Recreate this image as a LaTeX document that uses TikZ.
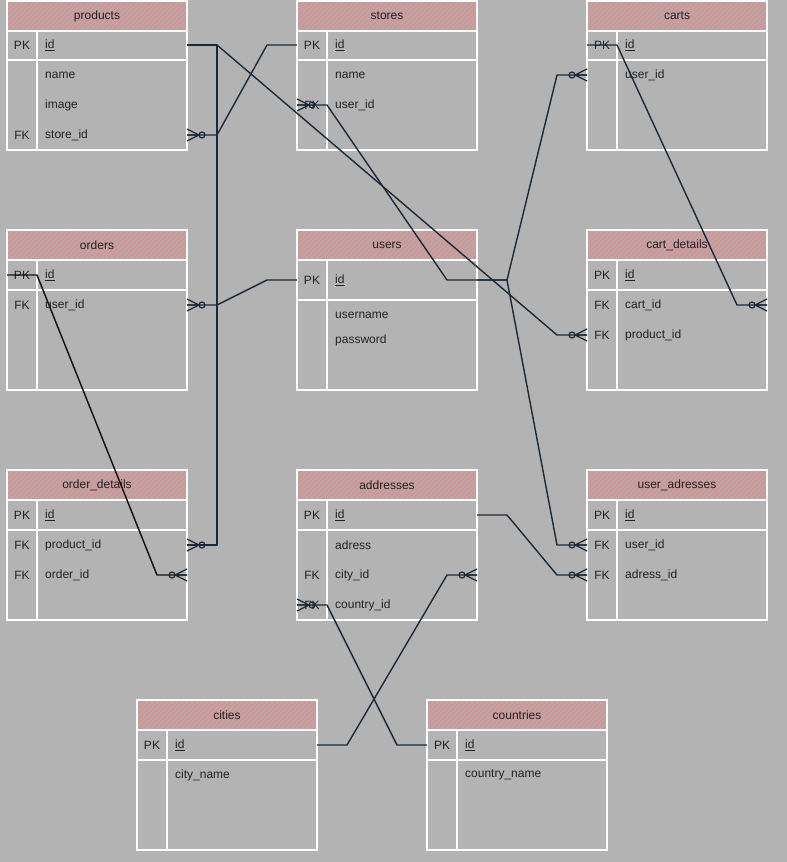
\documentclass[tikz,border=0pt]{standalone}
\usepackage{fontspec}
\setmainfont{Liberation Sans}
\definecolor{bg}{RGB}{179,179,179}
\definecolor{conn}{RGB}{26,42,58}
\definecolor{connblack}{RGB}{18,18,22}
\definecolor{txt}{RGB}{34,34,34}
\definecolor{hdrbase}{RGB}{182,170,170}
\definecolor{hatch}{RGB}{216,146,146}

% table frame: header band with hatching, outline, key column divider, title
\newcommand\ertable[5]{% #1 name, #2 x, #3 y, #4 height, #5 title
  \begin{scope}
    \clip (#2,#3) rectangle ++(180,30);
    \fill[hdrbase] (#2,#3) rectangle ++(180,30);
    \foreach \k in {-30,-25,...,186}
      \draw[hatchline] ({#2+\k},{#3+30}) -- ++(30,-30);
  \end{scope}
  \node[tbl, minimum height=#4pt] (#1) at (#2,#3) {};
  \draw[rule] (#2,{#3+30}) -- ++(180,0);
  \draw[rule] ({#2+30},{#3+30}) -- ({#2+30},{#3+#4});
  \node[title] (#1-title) at ({#2+90},{#3+15}) {#5};
}
% horizontal rule below the primary key row
\newcommand\errule[2]{\draw[rule] (#1,#2) -- ++(180,0);}
% one field row: #1 node name, #2 table x, #3 row y, #4 key, #5 field name
\newcommand\erfield[5]{%
  \node[keytxt] (#1-k) at ({#2+15},#3) {#4};
  \node[fld] (#1) at ({#2+38},#3) {#5};
}

\begin{document}
\begin{tikzpicture}[x=1pt,y=-1pt,
  tbl/.style={draw=white, line width=1.3pt, minimum width=180pt, anchor=north west,
    inner sep=0pt, outer sep=0pt},
  rule/.style={draw=white, line width=1.1pt},
  hatchline/.style={draw=hatch, line width=1.6pt},
  title/.style={font=\fontsize{12}{14}\selectfont, text=txt, inner sep=0pt},
  fld/.style={font=\fontsize{12}{14}\selectfont, text=txt, anchor=west, inner sep=0pt},
  keytxt/.style={font=\fontsize{12}{14}\selectfont, text=txt, inner sep=0pt},
  rel/.style={draw=conn, line width=1.4pt, line join=round},
  relblack/.style={rel, draw=connblack},
  crow/.pic={
    \draw[conn, line width=1.2pt, line join=round] (0,-6) -- (12,0) -- (0,6) (0,0) -- (12,0);
    \draw[conn, line width=1.2pt] (15,0) circle (3);
  }
]
\fill[bg] (0,0) rectangle (787,862);
\useasboundingbox (0,0) rectangle (787,862);

% ---------- tables ----------
\ertable{products}{7}{1}{149}{products}
\errule{7}{60}
\erfield{p-id}{7}{45}{PK}{\underline{id}}
\erfield{p-name}{7}{75}{}{name}
\erfield{p-image}{7}{105}{}{image}
\erfield{p-store}{7}{135}{FK}{store\_id}

\ertable{stores}{297}{1}{149}{stores}
\errule{297}{60}
\erfield{s-id}{297}{45}{PK}{\underline{id}}
\erfield{s-name}{297}{75}{}{name}
\erfield{s-user}{297}{105}{FK}{user\_id}

\ertable{carts}{587}{1}{149}{carts}
\errule{587}{60}
\erfield{c-id}{587}{45}{PK}{\underline{id}}
\erfield{c-user}{587}{75}{}{user\_id}

\ertable{orders}{7}{230}{160}{orders}
\errule{7}{290}
\erfield{o-id}{7}{275}{PK}{\underline{id}}
\erfield{o-user}{7}{305}{FK}{user\_id}

\ertable{users}{297}{230}{160}{users}
\errule{297}{300}
\erfield{u-id}{297}{280}{PK}{\underline{id}}
\erfield{u-name}{297}{315}{}{username}
\erfield{u-pass}{297}{340}{}{password}

\ertable{cart_details}{587}{230}{160}{cart\_details}
\errule{587}{290}
\erfield{cd-id}{587}{275}{PK}{\underline{id}}
\erfield{cd-cart}{587}{305}{FK}{cart\_id}
\erfield{cd-prod}{587}{335}{FK}{product\_id}

\ertable{order_details}{7}{470}{150}{order\_details}
\errule{7}{530}
\erfield{od-id}{7}{515}{PK}{\underline{id}}
\erfield{od-prod}{7}{545}{FK}{product\_id}
\erfield{od-order}{7}{575}{FK}{order\_id}

\ertable{addresses}{297}{470}{150}{addresses}
\errule{297}{530}
\erfield{a-id}{297}{515}{PK}{\underline{id}}
\erfield{a-adr}{297}{545}{}{adress}
\erfield{a-city}{297}{575}{FK}{city\_id}
\erfield{a-country}{297}{605}{FK}{country\_id}

\ertable{user_adresses}{587}{470}{150}{user\_adresses}
\errule{587}{530}
\erfield{ua-id}{587}{515}{PK}{\underline{id}}
\erfield{ua-user}{587}{545}{FK}{user\_id}
\erfield{ua-adr}{587}{575}{FK}{adress\_id}

\ertable{cities}{137}{700}{150}{cities}
\errule{137}{760}
\erfield{ci-id}{137}{745}{PK}{\underline{id}}
\erfield{ci-name}{137}{775}{}{city\_name}

\ertable{countries}{427}{700}{150}{countries}
\errule{427}{760}
\erfield{co-id}{427}{745}{PK}{\underline{id}}
\erfield{co-name}{427}{775}{}{country\_name}

% ---------- attachment points on the table edges ----------
\coordinate (p-id-R)     at (products.east |- p-id);
\coordinate (p-store-R)  at (products.east |- p-store);
\coordinate (s-id-L)     at (stores.west |- s-id);
\coordinate (s-user-L)   at (stores.west |- s-user);
\coordinate (c-id-L)     at (carts.west |- c-id);
\coordinate (c-user-L)   at (carts.west |- c-user);
\coordinate (o-id-L)     at (orders.west |- o-id);
\coordinate (o-user-R)   at (orders.east |- o-user);
\coordinate (u-id-L)     at (users.west |- u-id);
\coordinate (u-id-R)     at (users.east |- u-id);
\coordinate (cd-cart-R)  at (cart_details.east |- cd-cart);
\coordinate (cd-prod-L)  at (cart_details.west |- cd-prod);
\coordinate (od-prod-R)  at (order_details.east |- od-prod);
\coordinate (od-order-R) at (order_details.east |- od-order);
\coordinate (a-id-R)     at (addresses.east |- a-id);
\coordinate (a-city-R)   at (addresses.east |- a-city);
\coordinate (a-country-L) at (addresses.west |- a-country);
\coordinate (ua-user-L)  at (user_adresses.west |- ua-user);
\coordinate (ua-adr-L)   at (user_adresses.west |- ua-adr);
\coordinate (ci-id-R)    at (cities.east |- ci-id);
\coordinate (co-id-L)    at (countries.west |- co-id);

% ---------- relations ----------
% products.id -> order_details.product_id
\draw[rel] (p-id-R) -- ++(30,0) |- (od-prod-R);
% products.id -> cart_details.product_id
\draw[rel] (p-id-R) -- ++(30,0) -- ([xshift=-30pt]cd-prod-L) -- (cd-prod-L);
% stores.id -> products.store_id
\draw[rel] (s-id-L) -- ++(-30,0) -- ([xshift=30pt]p-store-R) -- (p-store-R);
% users.id -> orders.user_id
\draw[rel] (u-id-L) -- ++(-30,0) -- ([xshift=30pt]o-user-R) -- (o-user-R);
% users.id -> stores.user_id
\draw[rel] (u-id-R) -- ++(-30,0) -- ([xshift=30pt]s-user-L) -- (s-user-L);
% users.id -> carts.user_id
\draw[rel] (u-id-R) -- ++(30,0) -- ([xshift=-30pt]c-user-L) -- (c-user-L);
% users.id -> user_adresses.user_id
\draw[rel] (u-id-R) -- ++(30,0) -- ([xshift=-30pt]ua-user-L) -- (ua-user-L);
% carts.id -> cart_details.cart_id
\draw[rel] (c-id-L) -- ++(30,0) -- ([xshift=-30pt]cd-cart-R) -- (cd-cart-R);
% orders.id -> order_details.order_id
\draw[relblack] (o-id-L) -- ++(30,0) -- ([xshift=-30pt]od-order-R) -- (od-order-R);
% addresses.id -> user_adresses.adress_id
\draw[rel] (a-id-R) -- ++(30,0) -- ([xshift=-30pt]ua-adr-L) -- (ua-adr-L);
% cities.id -> addresses.city_id
\draw[rel] (ci-id-R) -- ++(30,0) -- ([xshift=-30pt]a-city-R) -- (a-city-R);
% countries.id -> addresses.country_id
\draw[rel] (co-id-L) -- ++(-30,0) -- ([xshift=30pt]a-country-L) -- (a-country-L);

% ---------- zero-or-many ends ----------
\pic at (od-prod-R) {crow};
\pic at (p-store-R) {crow};
\pic at (o-user-R) {crow};
\pic at (s-user-L) {crow};
\pic at (a-country-L) {crow};
\pic[rotate=180] at (cd-prod-L) {crow};
\pic[rotate=180] at (c-user-L) {crow};
\pic[rotate=180] at (ua-user-L) {crow};
\pic[rotate=180] at (cd-cart-R) {crow};
\pic[rotate=180] at (od-order-R) {crow};
\pic[rotate=180] at (ua-adr-L) {crow};
\pic[rotate=180] at (a-city-R) {crow};
\end{tikzpicture}
\end{document}
